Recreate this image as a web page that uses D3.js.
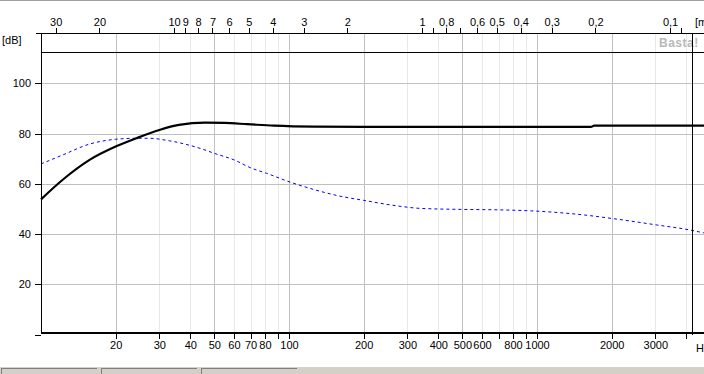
<!DOCTYPE html>
<html>
<head>
<meta charset="utf-8">
<script src="https://cdnjs.cloudflare.com/ajax/libs/d3/7.8.5/d3.min.js"></script>
<style>
  body { margin: 0; background: #fff; overflow: hidden; }
  svg { display: block; font-family: "Liberation Sans", Arial, sans-serif; }
  .tick text { font-size: 11px; fill: #000; font-family: "Liberation Sans", Arial, sans-serif; }
</style>
</head>
<body>
<div id="chart"></div>
<script>
  // measured response, frequency in Hz / level in dB
  var solidFreq = [10, 12.2, 15.7, 20, 24.2, 30, 36, 46, 55, 68, 87, 126, 200, 500, 1000, 1650, 1700, 3000, 5000];
  var solidDb = [53.8, 61.5, 69.5, 74.8, 78.1, 81.4, 83.4, 84.3, 84.2, 83.7, 83.1, 82.7, 82.6, 82.6, 82.6, 82.6, 83.1, 83.1, 83.1];

  var dashFreq = [10, 12.2, 15.7, 20, 24.2, 27.3, 32.9, 38.4, 45, 50, 60, 71, 81, 100, 125, 160, 200, 268, 338, 490, 710, 950, 1540, 2000, 3040, 4140, 4680, 5000];
  var dashDb = [67.9, 71.4, 75.8, 77.7, 78.1, 78.1, 77.1, 75.7, 73.7, 72.1, 69.5, 66.1, 64.2, 60.8, 57.8, 55.1, 53.4, 51.3, 50.2, 49.8, 49.6, 49.2, 47.6, 46.2, 43.6, 41.6, 40.5, 40.0];

  var freqTicks = [20, 30, 40, 50, 60, 70, 80, 90, 100, 200, 300, 400, 500, 600, 700, 800, 900, 1000, 2000, 3000, 4000];
  var freqLabels = ['20', '30', '40', '50', '60', '70', '80', '', '100', '200', '300', '400', '500', '600', '', '800', '', '1000', '2000', '3000', ''];
  var majorGrid = [20, 50, 100, 200, 500, 1000, 2000];
  var minorGrid = [30, 40, 60, 70, 80, 90, 300, 400, 600, 700, 800, 900, 3000, 4000];

  var meterTicks = [30, 20, 10, 9, 8, 7, 6, 5, 4, 3, 2, 1, 0.9, 0.8, 0.7, 0.6, 0.5, 0.4, 0.3, 0.2, 0.1, 0.09];
  var meterLabels = ['30', '20', '10', '9', '8', '7', '6', '5', '4', '3', '2', '1', '', '0,8', '', '0,6', '0,5', '0,4', '0,3', '0,2', '0,1', ''];
  var soundSpeed = 344;

  var dbTicks = [0, 20, 40, 60, 80, 100];
  var cursorFreq = 4230;
  var cursorDb = 112.6;

  var width = 704, height = 374;
  var plotLeft = 41, plotTop = 33, plotBottom = 333;

  var svg = d3.select('#chart').append('svg')
      .attr('width', width)
      .attr('height', height);

  var xScale = d3.scaleLog().domain([10, 5000]).range([plotLeft, plotLeft + 248 * Math.log10(500)]);
  var yScale = d3.scaleLinear().domain([0, 120]).range([334.5, 33]);
  var mScale = d3.scaleLog().domain([soundSpeed / 10, soundSpeed / 5000]).range(xScale.range());

  // window border + status bar
  svg.append('rect').attr('x', 0).attr('y', 0).attr('width', width).attr('height', 1).attr('fill', '#a0a0a0');
  svg.append('rect').attr('x', 0).attr('y', 366).attr('width', width).attr('height', 8).attr('fill', '#d4d0c8');
  svg.append('rect').attr('x', 0).attr('y', 366).attr('width', width).attr('height', 1).attr('fill', '#ffffff');
  [0, 100, 200].forEach(function (px) {
    svg.append('rect').attr('x', px + 1).attr('y', 368).attr('width', 1).attr('height', 6).attr('fill', '#808080');
    svg.append('rect').attr('x', px + 2).attr('y', 368).attr('width', 95).attr('height', 1).attr('fill', '#808080');
  });

  var grid = svg.append('g').attr('shape-rendering', 'crispEdges');
  grid.selectAll('.minor').data(minorGrid).enter().append('line')
      .attr('x1', function (d) { return Math.round(xScale(d)) + 0.5; })
      .attr('x2', function (d) { return Math.round(xScale(d)) + 0.5; })
      .attr('y1', plotTop).attr('y2', plotBottom)
      .attr('stroke', '#e8e8e8');
  grid.selectAll('.major').data(majorGrid).enter().append('line')
      .attr('x1', function (d) { return Math.round(xScale(d)) + 0.5; })
      .attr('x2', function (d) { return Math.round(xScale(d)) + 0.5; })
      .attr('y1', plotTop).attr('y2', plotBottom)
      .attr('stroke', '#c0c0c0');
  grid.selectAll('.hgrid').data(dbTicks.slice(1)).enter().append('line')
      .attr('x1', plotLeft).attr('x2', width)
      .attr('y1', function (d) { return Math.round(yScale(d)) + 0.5; })
      .attr('y2', function (d) { return Math.round(yScale(d)) + 0.5; })
      .attr('stroke', '#c0c0c0');

  // watermark
  svg.append('text').attr('x', 659).attr('y', 47)
      .attr('font-size', 12).attr('font-weight', 'bold').attr('letter-spacing', 0.5)
      .attr('fill', '#b8b8b8').text('Basta!');

  // curves
  var line = d3.line()
      .x(function (d) { return xScale(d[0]); })
      .y(function (d) { return yScale(d[1]); })
      .curve(d3.curveMonotoneX);

  svg.append('path')
      .datum(d3.zip(dashFreq, dashDb))
      .attr('d', line)
      .attr('fill', 'none')
      .attr('stroke', '#0000ff')
      .attr('stroke-width', 1)
      .attr('stroke-dasharray', '3,3');

  svg.append('path')
      .datum(d3.zip(solidFreq, solidDb))
      .attr('d', line)
      .attr('fill', 'none')
      .attr('stroke', '#000')
      .attr('stroke-width', 2.2);

  // cursor
  var cursor = svg.append('g').attr('shape-rendering', 'crispEdges');
  cursor.append('line')
      .attr('x1', Math.round(xScale(cursorFreq)) + 0.5).attr('x2', Math.round(xScale(cursorFreq)) + 0.5)
      .attr('y1', plotTop).attr('y2', plotBottom + 2)
      .attr('stroke', '#000');
  cursor.append('line')
      .attr('x1', plotLeft).attr('x2', width)
      .attr('y1', Math.round(yScale(cursorDb)) + 0.5).attr('y2', Math.round(yScale(cursorDb)) + 0.5)
      .attr('stroke', '#000');

  // axes
  var xAxis = d3.axisBottom(xScale)
      .tickValues(freqTicks)
      .tickSize(6)
      .tickPadding(2)
      .tickFormat(function (d, i) { return freqLabels[i]; });
  var xAxisEl = svg.append('g')
      .attr('transform', 'translate(0,' + plotBottom + ')')
      .attr('shape-rendering', 'crispEdges')
      .call(xAxis);
  xAxisEl.select('.domain').remove();
  xAxisEl.selectAll('.tick line').attr('stroke', '#000');

  var topAxis = d3.axisTop(mScale)
      .tickValues(meterTicks)
      .tickSize(5)
      .tickPadding(2)
      .tickFormat(function (d, i) { return meterLabels[i]; });
  var topAxisEl = svg.append('g')
      .attr('transform', 'translate(0,' + plotTop + ')')
      .attr('shape-rendering', 'crispEdges')
      .call(topAxis);
  topAxisEl.select('.domain').remove();
  topAxisEl.selectAll('.tick line').attr('stroke', '#000');

  var yAxis = d3.axisLeft(yScale)
      .tickValues(dbTicks)
      .tickSize(6)
      .tickPadding(4)
      .tickFormat(function (d) { return d === 0 ? '' : d; });
  var yAxisEl = svg.append('g')
      .attr('transform', 'translate(' + plotLeft + ',0)')
      .attr('shape-rendering', 'crispEdges')
      .call(yAxis);
  yAxisEl.select('.domain').remove();
  yAxisEl.selectAll('.tick line').attr('stroke', '#000');

  var frame = svg.append('g').attr('shape-rendering', 'crispEdges');
  frame.append('line').attr('x1', 36).attr('x2', width).attr('y1', plotTop + 0.5).attr('y2', plotTop + 0.5).attr('stroke', '#000');
  frame.append('line').attr('x1', plotLeft + 0.5).attr('x2', plotLeft + 0.5).attr('y1', plotTop).attr('y2', plotBottom).attr('stroke', '#000');
  frame.append('line').attr('x1', plotLeft).attr('x2', width).attr('y1', plotBottom).attr('y2', plotBottom).attr('stroke', '#000').attr('stroke-width', 2);

  // unit labels
  svg.append('text').attr('x', 2).attr('y', 44).attr('font-size', 11).text('[dB]');
  svg.append('text').attr('x', 695).attr('y', 26).attr('font-size', 11).text('[m]');
  svg.append('text').attr('x', 696).attr('y', 352).attr('font-size', 11).text('Hz');
</script>
</body>
</html>
